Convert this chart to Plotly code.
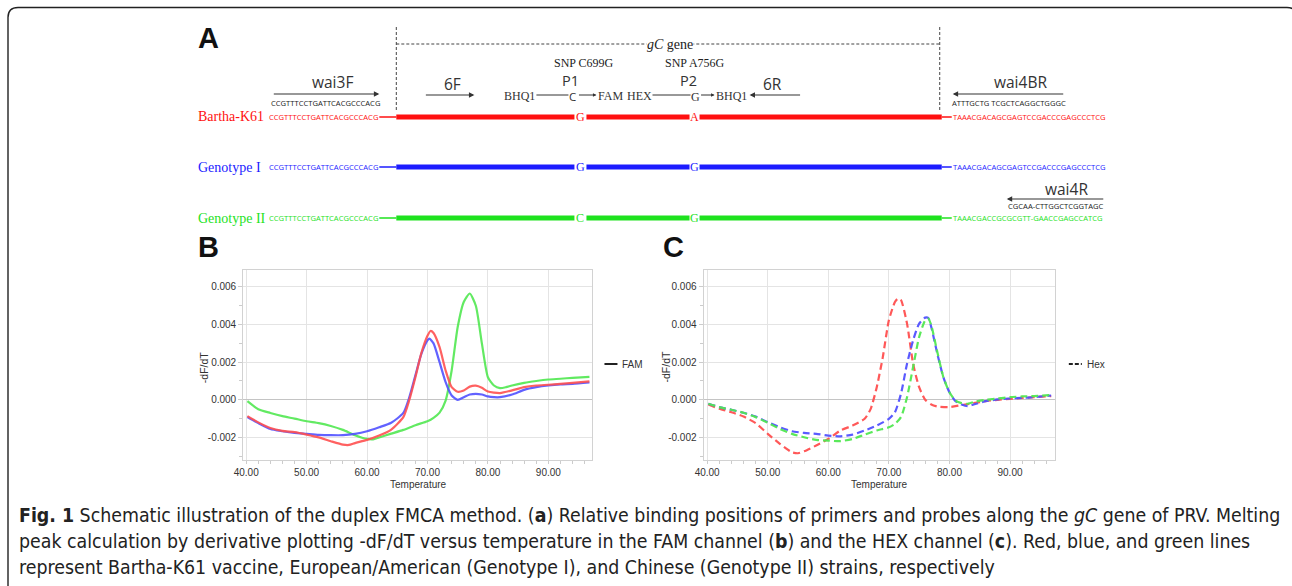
import plotly.graph_objects as go

W, H = 1292, 586

# ---------------- data: panel B (FAM channel) ----------------
b_bartha_t = [40.2, 42, 44, 46, 48, 50, 52, 54, 56, 57, 58, 60, 62, 64, 66, 67, 68, 69, 70, 70.5, 71, 72, 73, 74,
              75, 76, 77, 78, 79, 80, 82, 84, 86, 88, 90, 92, 94, 96.8]
b_bartha_y = [-0.00087, -0.0012, -0.0015, -0.00165, -0.00172, -0.00185, -0.0020, -0.0022, -0.00238, -0.0024,
              -0.0023, -0.00213, -0.0019, -0.00158, -0.00092, 0.0, 0.0012, 0.0025, 0.0034, 0.00366, 0.00355,
              0.0028, 0.00156, 0.00067, 0.00043, 0.0005, 0.0007, 0.00075, 0.00064, 0.00044, 0.00036, 0.0005,
              0.00067, 0.00076, 0.0008, 0.00085, 0.0009, 0.00098]

b_geno1_t = [40.2, 42, 44, 46, 48, 50, 52, 54, 56, 58, 60, 62, 64, 66, 67, 68, 69, 70, 70.3, 71, 72, 73, 74, 75,
             76, 77, 78, 79, 80, 81, 82, 84, 86, 88, 90, 92, 94, 96.8]
b_geno1_y = [-0.00092, -0.00124, -0.00155, -0.00167, -0.00176, -0.00181, -0.00186, -0.00188, -0.00188, -0.00181,
             -0.00167, -0.00146, -0.00122, -0.0007, 0.00014, 0.0013, 0.00245, 0.00316, 0.00325, 0.0030, 0.0020,
             0.00094, 0.00023, 0.0, 0.00014, 0.00028, 0.00032, 0.00028, 0.00018, 0.00014, 0.00014, 0.00028,
             0.00053, 0.00067, 0.00076, 0.00082, 0.00085, 0.00092]

b_geno2_t = [40.2, 42, 44, 46, 48, 50, 52, 54, 56, 58, 60, 61, 62, 64, 66, 68, 70, 71, 72, 73, 74, 75, 76, 77, 78,
             79, 80, 81, 82, 83, 84, 86, 88, 90, 92, 94, 96.8]
b_geno2_y = [-0.00007, -0.0005, -0.0007, -0.00087, -0.0010, -0.00114, -0.00124, -0.00139, -0.0016, -0.00188,
             -0.00208, -0.0021, -0.0020, -0.0018, -0.0016, -0.00135, -0.00114, -0.00096, -0.00068, -0.00004,
             0.00156, 0.00387, 0.0052, 0.00565, 0.0050, 0.0030, 0.0012, 0.00076, 0.00062, 0.00067, 0.00076,
             0.0009, 0.0010, 0.00108, 0.00112, 0.00117, 0.00122]

# ---------------- data: panel C (HEX channel) ----------------
c_bartha_t = [40.2, 42, 44, 46, 48, 50, 52, 54, 55, 56, 58, 60, 62, 64, 66, 67, 68, 69, 70, 71, 71.5, 72, 73, 74,
              75, 76, 77, 78, 80, 82, 84, 86, 88, 90, 92, 94, 96.8]
c_bartha_y = [-0.00025, -0.00048, -0.00066, -0.00089, -0.00124, -0.00181, -0.00234, -0.00279, -0.00284, -0.00274,
              -0.00243, -0.00208, -0.00163, -0.00137, -0.00101, -0.00048, 0.00067, 0.00227, 0.00423, 0.0052,
              0.00538, 0.0053, 0.00405, 0.00192, 0.00067, 0.0, -0.00025, -0.00036, -0.00039, -0.00028, -0.00018,
              -0.00007, 0.0, 0.00005, 0.0001, 0.00014, 0.0002]

c_geno1_t = [40.2, 42, 44, 46, 48, 50, 52, 54, 56, 58, 60, 62, 64, 66, 68, 70, 71, 72, 73, 74, 75, 76, 76.5, 77,
             78, 79, 80, 81, 82, 83, 84, 86, 88, 90, 92, 94, 96.8]
c_geno1_y = [-0.00021, -0.00039, -0.00053, -0.00069, -0.00089, -0.00119, -0.00146, -0.00167, -0.00176, -0.00181,
             -0.0019, -0.00194, -0.00185, -0.00163, -0.00137, -0.00101, -0.00066, 0.00032, 0.00192, 0.00316,
             0.00405, 0.00437, 0.00435, 0.00387, 0.00245, 0.0012, 0.0004, -0.00007, -0.00025, -0.00034,
             -0.00025, -0.00007, 0.00002, 0.00007, 0.0001, 0.00014, 0.00023]

c_geno2_t = [40.2, 42, 44, 46, 48, 50, 52, 54, 56, 58, 60, 62, 64, 66, 68, 70, 71, 72, 73, 74, 75, 76, 76.5, 77,
             78, 79, 80, 81, 82, 83, 84, 86, 88, 90, 92, 94, 96.8]
c_geno2_y = [-0.00021, -0.00039, -0.00053, -0.00069, -0.00092, -0.00122, -0.00155, -0.00181, -0.00199, -0.00213,
             -0.00217, -0.0022, -0.00208, -0.00185, -0.00163, -0.00146, -0.00128, -0.00092, 0.00014, 0.00174,
             0.00334, 0.00423, 0.00432, 0.00396, 0.00254, 0.0012, 0.0004, -0.00004, -0.00018, -0.00021, -0.00012,
             0.0, 0.00007, 0.00014, 0.00018, 0.0002, 0.00025]

# ---------------- tick labels ----------------
x_tickvals = [40, 50, 60, 70, 80, 90]
x_ticktext = ["40.00", "50.00", "60.00", "70.00", "80.00", "90.00"]
y_tickvals = [-0.002, 0.0, 0.002, 0.004, 0.006]
y_ticktext = ["-0.002", "0.000", "0.002", "0.004", "0.006"]

# ---------------- schematic text ----------------
strain_names = ["Bartha-K61", "Genotype I", "Genotype II"]
left_seqs = ["CCGTTTCCTGATTCACGCCCACG", "CCGTTTCCTGATTCACGCCCACG", "CCGTTTCCTGATTCACGCCCACG"]
right_seqs = ["TAAACGACAGCGAGTCCGACCCGAGCCCTCG", "TAAACGACAGCGAGTCCGACCCGAGCCCTCG",
              "TAAACGACCGCGCGTT-GAACCGAGCCATCG"]
snp1_bases = ["G", "G", "C"]
snp2_bases = ["A", "G", "G"]
wai3f_seq = "CCGTTTCCTGATTCACGCCCACG"
wai4br_seq = "ATTTGCTG TCGCTCAGGCTGGGC"
wai4r_seq = "CGCAA-CTTGGCTCGGTAGC"
caption_lines = [
    "<b>Fig. 1</b> Schematic illustration of the duplex FMCA method. (<b>a</b>) Relative binding positions of primers "
    "and probes along the <i>gC</i> gene of PRV. Melting",
    "peak calculation by derivative plotting -dF/dT versus temperature in the FAM channel (<b>b</b>) and the HEX "
    "channel (<b>c</b>). Red, blue, and green lines",
    "represent Bartha-K61 vaccine, European/American (Genotype I), and Chinese (Genotype II) strains, respectively",
]

# ---------------- styles ----------------
strain_colors = ["#ff1010", "#1c1cff", "#1ee21e"]
curve_colors = ["#ff5050", "#5252ff", "#52e852"]
SERIF = "Liberation Serif, Times New Roman, serif"
SANS = "Open Sans, Noto Sans, sans-serif"
PLOTF = "Liberation Sans, Arial, sans-serif"
CAPF = "Liberation Sans Narrow, Arial Narrow, DejaVu Sans Condensed, sans-serif"
DARK = "#333333"

# the page lays the paper out over this horizontal pixel span of the window
X_OFF, W_EFF = 10.0, 1282.0


def px(x):
    return (x - X_OFF) / W_EFF


def py(y):
    return 1 - y / H


fig = go.Figure()

# panel B traces
for t, y, c in [(b_geno2_t, b_geno2_y, curve_colors[2]), (b_geno1_t, b_geno1_y, curve_colors[1]),
                (b_bartha_t, b_bartha_y, curve_colors[0])]:
    fig.add_trace(go.Scatter(x=t, y=y, mode="lines", line=dict(color=c, width=2.2, shape="spline", smoothing=0.6),
                             opacity=0.9, showlegend=False, xaxis="x", yaxis="y"))
# panel C traces
for t, y, c in [(c_bartha_t, c_bartha_y, curve_colors[0]), (c_geno1_t, c_geno1_y, curve_colors[1]),
                (c_geno2_t, c_geno2_y, curve_colors[2])]:
    fig.add_trace(go.Scatter(x=t, y=y, mode="lines",
                             line=dict(color=c, width=2.2, shape="spline", smoothing=0.6, dash="7px,4px"),
                             opacity=0.95, showlegend=False, xaxis="x2", yaxis="y2"))

axis_common = dict(showgrid=True, gridcolor="#e4e4e4", gridwidth=1, showline=True, linecolor="#d2d2d2",
                   mirror=True, ticks="outside", tickcolor="#cccccc",
                   tickfont=dict(family=PLOTF, size=10, color=DARK))
xa = dict(axis_common, tickmode="array", tickvals=x_tickvals, ticktext=x_ticktext, zeroline=False, ticklen=3,
          minor=dict(tick0=40, dtick=2, ticks="outside", ticklen=3, tickcolor="#cccccc", showgrid=False))
ya = dict(axis_common, tickmode="array", tickvals=y_tickvals, ticktext=y_ticktext, zeroline=True, ticklen=4,
          zerolinecolor="#c4c4c4", zerolinewidth=1, range=[-0.0032, 0.0069],
          minor=dict(tick0=0, dtick=0.001, ticks="outside", ticklen=3, tickcolor="#cccccc", showgrid=False))

fig.update_layout(
    width=W, height=H, autosize=False, margin=dict(l=0, r=0, t=0, b=0),
    paper_bgcolor="white", plot_bgcolor="white", showlegend=False,
    xaxis=dict(xa, domain=[px(244), px(593)], range=[39.5, 97.3], anchor="y"),
    yaxis=dict(ya, domain=[py(460), py(270)], anchor="x"),
    xaxis2=dict(xa, domain=[px(704), px(1055)], range=[39.4, 97.4], anchor="y2"),
    yaxis2=dict(ya, domain=[py(460), py(270)], anchor="x2"),
)

shapes = []
ann = []


def text(x, y, s, size, color=DARK, family=SANS, xanchor="center", **kw):
    ann.append(dict(x=px(x), y=py(y), xref="paper", yref="paper", text=s, showarrow=False,
                    font=dict(family=family, size=size, color=color), xanchor=xanchor, yanchor="middle",
                    borderpad=0, **kw))


def line(x0, y0, x1, y1, color=DARK, width=1, dash=None):
    shapes.append(dict(type="line", xref="paper", yref="paper", x0=px(x0), y0=py(y0), x1=px(x1), y1=py(y1),
                       line=dict(color=color, width=width, dash=dash)))


def arrow(x_tail, x_head, y, width=1.2, size=0.9):
    ann.append(dict(x=px(x_head), y=py(y), xref="paper", yref="paper", ax=x_tail - x_head, ay=0,
                    axref="pixel", ayref="pixel", text="", showarrow=True, arrowhead=2, arrowsize=size,
                    arrowwidth=width, arrowcolor=DARK, standoff=0, startstandoff=0))


# outer rounded border
r = 10
x0b, x1b, y0b, y1b = 9, 1297, 7.5, 600
path = (f"M {px(x0b)},{py(y1b)} L {px(x0b)},{py(y0b + r)} Q {px(x0b)},{py(y0b)} {px(x0b + r)},{py(y0b)} "
        f"L {px(x1b - r)},{py(y0b)} Q {px(x1b)},{py(y0b)} {px(x1b)},{py(y0b + r)} L {px(x1b)},{py(y1b)}")
shapes.append(dict(type="path", xref="paper", yref="paper", path=path, line=dict(color="#222222", width=1.4)))

# panel letters
for lx, ly, s in [(209, 38, "A"), (209, 247, "B"), (674, 247, "C")]:
    text(lx, ly, f"<b>{s}</b>", 29, color="#111111", family="Liberation Sans, Arial, sans-serif")

# gC gene dashed frame
line(397, 27, 397, 110, color="#444444", width=1, dash="3px,2px")
line(940, 27, 940, 110, color="#444444", width=1, dash="3px,2px")
line(397, 44, 940, 44, color="#444444", width=1, dash="3px,2px")
text(670, 44, "<i>gC</i> gene", 14, color="#222222", family=SERIF, bgcolor="white")
text(585, 63, "SNP C699G", 12, color="#222222", family=SERIF)
text(695, 63, "SNP A756G", 12, color="#222222", family=SERIF)

# primers
text(333, 82, "wai3F", 15.5)
arrow(273, 380, 94)
text(326, 103, wai3f_seq, 7.6, color="#222222")
text(453, 84, "6F", 15.5)
arrow(425, 475, 95)
text(571, 80, "P1", 14.5)
text(689, 80, "P2", 14.5)
text(773, 84, "6R", 15.5)
arrow(802, 750, 95)
text(1021, 82, "wai4BR", 15.5)
arrow(1065, 953, 94)
text(1009, 103, wai4br_seq, 7.6, color="#222222")
text(1067, 189, "wai4R", 15.5)
arrow(1105, 1007, 199)
text(1056, 206, wai4r_seq, 7.6, color="#222222")

# probes
text(537, 96, "BHQ1", 12, family=SERIF, xanchor="right")
line(537, 95, 569, 95, width=1)
text(573.5, 96.5, "C", 11.5)
arrow(578, 597, 95, width=1, size=0.7)
text(598, 96, "FAM", 12, family=SERIF, xanchor="left")
text(653, 96, "HEX", 12, family=SERIF, xanchor="right")
line(653, 95, 691, 95, width=1)
text(696, 96.5, "G", 12, family=SERIF)
arrow(700, 715, 95, width=1, size=0.7)
text(715, 96, "BHQ1", 12, family=SERIF, xanchor="left")

# sequence rows
row_y = [117, 167, 218]
for i in range(3):
    yy = row_y[i]
    col = strain_colors[i]
    text(198, yy, strain_names[i], 14, color=col, family=SERIF, xanchor="left")
    text(380, yy, left_seqs[i], 7.6, color=col, xanchor="right")
    line(380, yy, 397, yy, color=col, width=1.5)
    for a, b in [(397, 575), (587, 690), (700, 942)]:
        line(a, yy, b, yy, color=col, width=5)
    text(581, yy, snp1_bases[i], 12, color=col, family=SERIF)
    text(695, yy, snp2_bases[i], 12, color=col, family=SERIF)
    line(942, yy, 952, yy, color=col, width=1.5)
    text(952, yy, right_seqs[i], 7.6, color=col, xanchor="left")

# plot axis titles and legends
for cx, ax_x, ly0, lbl, dash in [(419, 205, 605, "FAM", None), (880, 666, 1069, "Hex", "4px,2px")]:
    text(cx, 484, "Temperature", 10, family=PLOTF)
    text(ax_x, 367, "-dF/dT", 10.5, family=PLOTF, textangle=-90)
    line(ly0, 364, ly0 + 13, 364, color="#222222", width=2, dash=dash)
    text(ly0 + 17, 364, lbl, 10, family=PLOTF, xanchor="left")

# caption
for yy, s in zip([515, 541, 567], caption_lines):
    text(19, yy, s, 19.35, color="#222222", family=CAPF, xanchor="left")

fig.update_layout(shapes=shapes, annotations=ann)
fig.write_html("out.html", config={"responsive": False, "displayModeBar": False},
               post_script="document.body.style.margin='0px';")
